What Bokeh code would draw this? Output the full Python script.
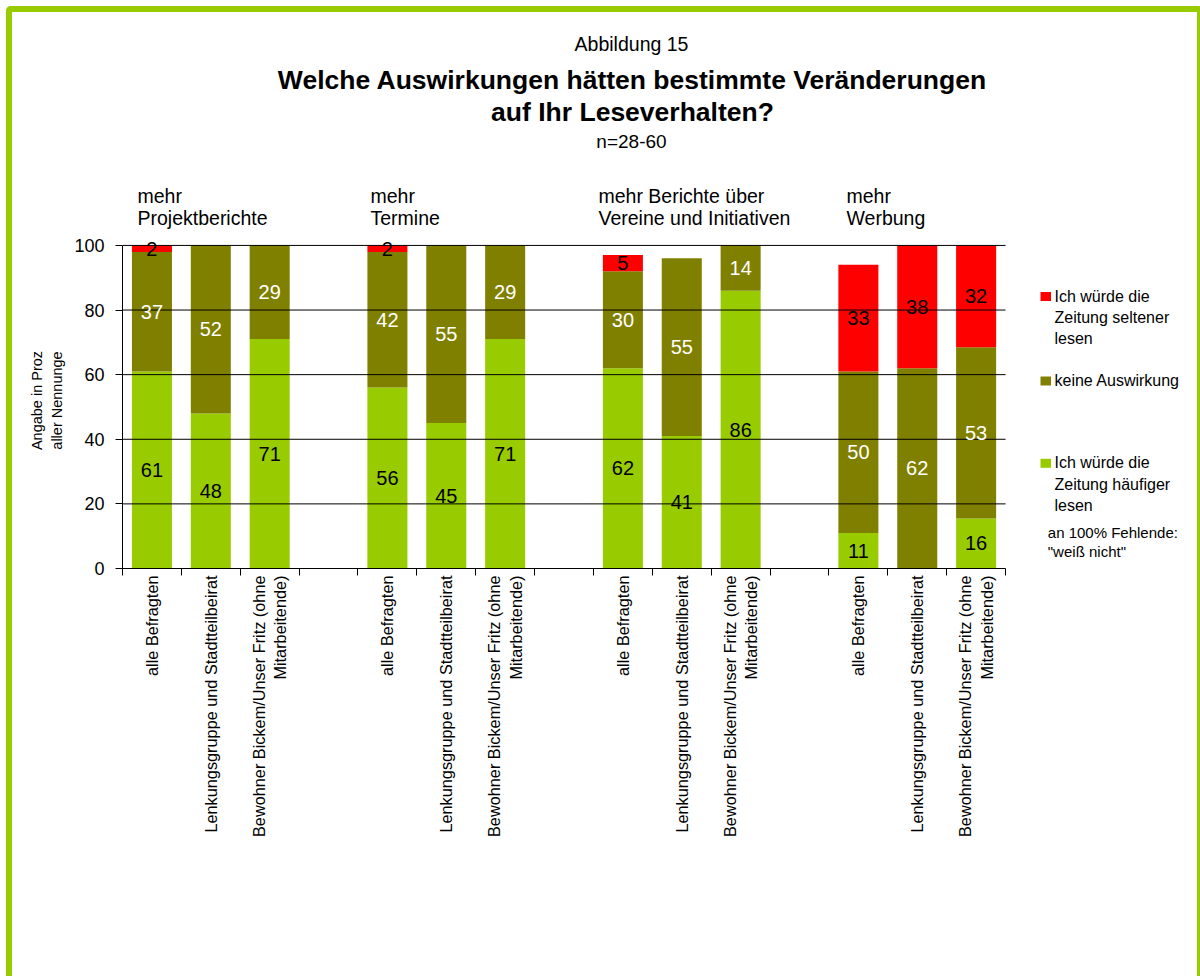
import math
from bokeh.plotting import figure
from bokeh.layouts import column
from bokeh.models import Range1d, FixedTicker, ColumnDataSource, Label
from bokeh.embed import file_html
from bokeh.resources import INLINE
from bokeh.core.properties import value

# ---------------- data ----------------
groups = ["mehr\nProjektberichte", "mehr\nTermine",
          "mehr Berichte über\nVereine und Initiativen", "mehr\nWerbung"]
subgroups = ["alle Befragten", "Lenkungsgruppe und Stadtteilbeirat",
             "Bewohner Bickem/Unser Fritz (ohne\nMitarbeitende)"]
haeufiger = [61, 48, 71, 56, 45, 71, 62, 41, 86, 11, 0, 15.5]
keine     = [37, 52, 29, 42, 55, 29, 30, 55, 14, 50, 62, 53]
seltener  = [2, 0, 0, 2, 0, 0, 5, 0, 0, 33, 38, 31.5]
series_names = ["Ich würde die\nZeitung häufiger\nlesen", "keine Auswirkung",
                "Ich würde die\nZeitung seltener\nlesen"]
colors = ["#99CC00", "#808000", "#FF0000"]
label_colors = ["black", "white", "black"]
y_ticks = [0, 20, 40, 60, 80, 100]
title_top = "Abbildung 15"
title_main = "Welche Auswirkungen hätten bestimmte Veränderungen\nauf Ihr Leseverhalten?"
subtitle = "n=28-60"
y_label = "Angabe in Proz\naller Nennunge"
note = 'an 100% Fehlende:\n"weiß nicht"'

FONT = "Liberation Sans"
GREEN = "#99CC00"

n_slots = len(groups) * 4 - 1
xs = [g * 4 + i + 0.5 for g in range(len(groups)) for i in range(len(subgroups))]
xlabels = [s for _ in groups for s in subgroups]

W = 1185
Y_END = 104
FRAME_H = 336
H_TOP = 568 - FRAME_H - 12
H_BOT = 976 - 12 - H_TOP
SLOT_PX = 58.87
xr = Range1d(0, (W - 110) / SLOT_PX)

def xd(px):          # page x -> data x
    return (px - 122) / SLOT_PX

def yt(py):          # page y -> data y of top figure
    return (12 + H_TOP) - py

def yb(py):          # page y -> data y of chart figure
    return (568 - py) / (FRAME_H / Y_END)

def lab(fig, x, y, text, size, bold=False, align="left", color="black"):
    fig.add_layout(Label(x=x, y=y, text=text, text_align=align,
                         text_baseline="alphabetic", text_font=FONT,
                         text_font_size=size, text_color=color,
                         text_font_style="bold" if bold else "normal"))

# ---------------- top figure: titles + group headers ----------------
top = figure(width=W, height=H_TOP, x_range=xr, y_range=Range1d(0, H_TOP),
             output_backend="svg", toolbar_location=None, title=None,
             x_axis_location=None, y_axis_location=None,
             min_border_left=110, min_border_right=0, min_border_top=0,
             min_border_bottom=0, outline_line_color=None,
             background_fill_color="white", border_fill_color="white")
top.grid.visible = False

lab(top, xd(631), yt(43), title_top, "19.5px", align="center")
for line, base in zip(title_main.split("\n"), [79, 111]):
    lab(top, xd(632), yt(base), line, "26.5px", bold=True, align="center")
lab(top, xd(631), yt(141), subtitle, "19px", align="center")
for gx, gt in zip([137, 370, 598, 846], groups):
    for line, base in zip(gt.split("\n"), [195, 217.5]):
        lab(top, xd(gx), yt(base), line, "19.5px")

# ---------------- chart figure ----------------
p = figure(width=W, height=H_BOT, x_range=xr, y_range=Range1d(0, Y_END),
           output_backend="svg", toolbar_location=None, title=None,
           min_border_left=110, min_border_right=0, min_border_top=0,
           min_border_bottom=H_BOT - FRAME_H,
           outline_line_color=None, background_fill_color="white",
           border_fill_color="white")

src = ColumnDataSource(dict(x=xs, h=haeufiger, k=keine, s=seltener))
p.vbar_stack(["h", "k", "s"], x="x", width=0.68, color=colors, line_color=None,
             source=src)

# horizontal grid lines across the bar area only
p.segment(x0=[0] * (len(y_ticks) - 1), x1=[n_slots] * (len(y_ticks) - 1),
          y0=y_ticks[1:], y1=y_ticks[1:], line_color="black", line_width=1)

# value labels
series = [haeufiger, keine, seltener]
bottom = [0.0] * len(xs)
for vals, tc in zip(series, label_colors):
    lx, ly, lt = [], [], []
    for i, v in enumerate(vals):
        if v > 0:
            lx.append(xs[i]); ly.append(bottom[i] + v / 2); lt.append(f"{v:.0f}")
        bottom[i] += v
    p.text(x=lx, y=ly, text=lt, text_align="center", text_baseline="middle",
           text_color=tc, text_font=value(FONT), text_font_size="20px")

p.grid.visible = False

ya = p.yaxis[0]
ya.ticker = FixedTicker(ticks=y_ticks)
ya.bounds = (0, 100)
ya.axis_line_color = "black"
ya.major_tick_line_color = "black"
ya.major_tick_out = 7
ya.major_tick_in = 0
ya.minor_tick_line_color = None
ya.major_label_text_font = FONT
ya.major_label_text_font_size = "18px"
ya.major_label_text_color = "black"
ya.major_label_standoff = 11
ya.axis_label = y_label
ya.axis_label_text_font = FONT
ya.axis_label_text_font_size = "14.5px"
ya.axis_label_text_font_style = "normal"
ya.axis_label_text_color = "black"
ya.axis_label_text_line_height = 1.3
ya.axis_label_standoff = 6

xa = p.xaxis[0]
xa.ticker = FixedTicker(ticks=xs, minor_ticks=list(range(n_slots + 1)))
xa.bounds = (0, n_slots)
xa.major_label_overrides = {x: t for x, t in zip(xs, xlabels)}
xa.major_label_orientation = math.pi / 2
xa.major_tick_out = 0
xa.major_tick_in = 0
xa.minor_tick_out = 7
xa.minor_tick_in = 0
xa.minor_tick_line_color = "black"
xa.axis_line_color = "black"
xa.major_label_text_font = FONT
xa.major_label_text_font_size = "16.3px"
xa.major_label_text_color = "black"
xa.major_label_standoff = 0

# legend (drawn with the chart's own scales)
leg_bases = [[467.3, 488.5, 509.5], [385], [300.5, 321.5, 342.5]]
p.quad(left=[xd(1040)] * 3, right=[xd(1050.5)] * 3,
       top=[yb(b[0] - 9) for b in leg_bases], bottom=[yb(b[0]) for b in leg_bases],
       fill_color=colors, line_color=None)
for name, bases in zip(series_names, leg_bases):
    for line, base in zip(name.split("\n"), bases):
        lab(p, xd(1054), yb(base - 5), line, "16px")
for line, base in zip(note.split("\n"), [531.5, 551]):
    lab(p, xd(1047.3), yb(base), line, "15px")

layout = column(top, p, spacing=0,
                styles={"margin": "6px 0 0 6px",
                        "border-top": f"6px solid {GREEN}",
                        "border-left": f"6px solid {GREEN}",
                        "border-right": f"6px solid {GREEN}",
                        "border-radius": "5px 5px 0 0"})

open("out.html", "w").write(file_html(layout, INLINE))
